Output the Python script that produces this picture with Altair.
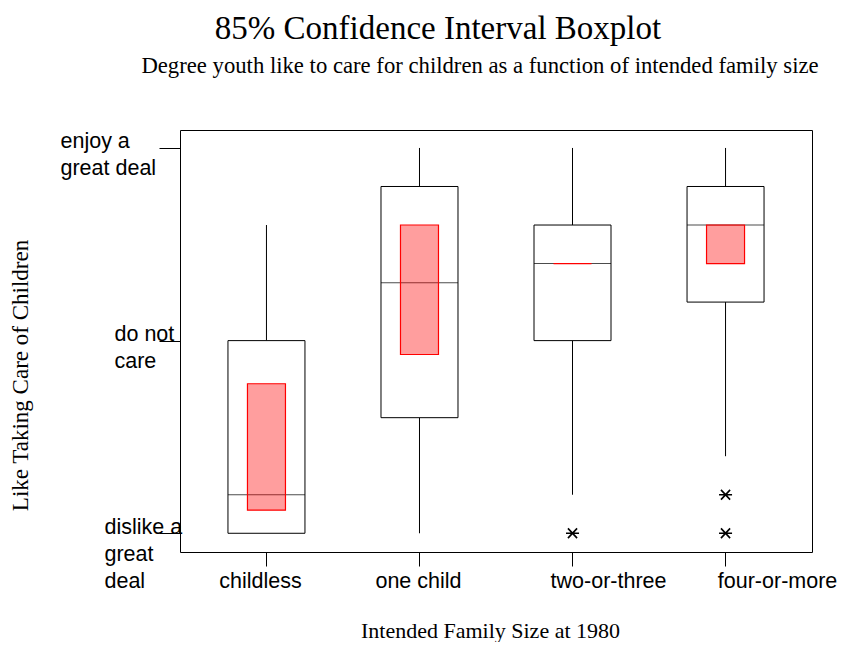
import json
import altair as alt
import pandas as pd

# ---- data ----
categories = ["childless", "one child", "two-or-three", "four-or-more"]
whisker_low = [1.0, 1.0, 1.5, 2.0]
q1 = [1.0, 2.5, 3.5, 4.0]
median = [1.5, 4.25, 4.5, 5.0]
q3 = [3.5, 5.5, 5.0, 5.5]
whisker_high = [5.0, 6.0, 6.0, 6.0]
ci_low = [1.3, 3.32, 4.5, 4.5]
ci_high = [2.94, 5.0, 4.5, 5.0]

outlier_groups = ["two-or-three", "four-or-more", "four-or-more"]
outlier_values = [1.0, 1.5, 1.0]

y_tick_values = [6, 3.5, 1]
y_tick_labels = [["enjoy a", "great deal"], ["do not", "care"], ["dislike a", "great", "deal"]]
y_label_pad = [99, 45, 55]
x_label_shift = [-6, -1, 36, 52]

title_text = "85% Confidence Interval Boxplot"
subtitle_text = "Degree youth like to care for children as a function of intended family size"
x_title = "Intended Family Size at 1980"
y_title = "Like Taking Care of Children"

df = pd.DataFrame({
    "group": categories, "lo": whisker_low, "q1": q1, "med": median,
    "q3": q3, "hi": whisker_high, "cil": ci_low, "cih": ci_high,
})
df_out = pd.DataFrame({"group": outlier_groups, "v": outlier_values})
df_title = pd.DataFrame({"t": [title_text]})
df_sub = pd.DataFrame({"t": [subtitle_text]})

# label expression built from the tick lists
expr = json.dumps(y_tick_labels[-1])
for v, lab in zip(reversed(y_tick_values[:-1]), reversed(y_tick_labels[:-1])):
    expr = f"datum.value == {v} ? {json.dumps(lab)} : {expr}"

pad_cond = {
    "condition": [
        {"test": f"datum.value == {v}", "value": p}
        for v, p in zip(y_tick_values[:-1], y_label_pad[:-1])
    ],
    "value": y_label_pad[-1],
}
xoff_cond = {
    "condition": [
        {"test": f"datum.value == {json.dumps(c)}", "value": s}
        for c, s in zip(categories[:-1], x_label_shift[:-1])
    ],
    "value": x_label_shift[-1],
}

SANS = "Liberation Sans"
SERIF = "Liberation Serif"

x_scale = alt.Scale(domain=categories, paddingInner=0, paddingOuter=0.065)
y_scale = alt.Scale(domain=[0.757, 6.233], nice=False, zero=False)

x_axis = alt.Axis(
    title=x_title, labelAngle=0, tickSize=14, tickColor="black", domain=False,
    labelFont=SANS, labelFontSize=21.5, labelColor="black", labelBaseline="alphabetic",
    labelPadding=21, labelOffset=xoff_cond, labelOverlap=False, labelFlush=False,
    labelBound=False,
    titleFont=SERIF, titleFontSize=22, titleFontWeight="normal",
    titleColor="black", titleX=310, titleY=85, titleBaseline="alphabetic", titleAlign="center",
)
y_axis = alt.Axis(
    title=y_title, values=y_tick_values, labelExpr=expr, tickSize=21, tickColor="black",
    domain=False, grid=False, labelFont=SANS, labelFontSize=21.5, labelColor="black",
    labelAlign="left", labelBaseline="alphabetic", labelLineHeight=27,
    labelPadding=pad_cond, labelOverlap=False, labelFlush=False,
    titleFont=SERIF, titleFontSize=23, titleFontWeight="normal", titleColor="black",
    titleX=-160, titleY=245, titleAlign="center", titleBaseline="middle", titleAngle=-90,
)

X = alt.X("group:N", scale=x_scale, axis=x_axis, sort=categories)

base = alt.Chart(df)

whisk_lo = base.mark_rule(color="black", strokeWidth=1).encode(
    x=X, y=alt.Y("lo:Q", scale=y_scale, axis=y_axis), y2="q1:Q")
whisk_hi = base.mark_rule(color="black", strokeWidth=1).encode(
    x=X, y=alt.Y("q3:Q", scale=y_scale), y2="hi:Q")
box = base.mark_bar(size=77, fill="white", stroke="black", strokeWidth=1).encode(
    x=X, y=alt.Y("q1:Q", scale=y_scale), y2="q3:Q")
med = base.mark_tick(size=77, thickness=1, color="black").encode(
    x=X, y=alt.Y("med:Q", scale=y_scale))
ci = base.mark_bar(size=38, fill="#ff0000", fillOpacity=0.38, stroke="#ff0000",
                   strokeWidth=1.2).encode(
    x=X, y=alt.Y("cil:Q", scale=y_scale), y2="cih:Q")
outl = alt.Chart(df_out).mark_point(
    shape="M-1,0L1,0M-0.7,-0.75L0.7,0.75M-0.7,0.75L0.7,-0.75",
    filled=False, stroke="black", strokeWidth=1.6, size=170, opacity=1,
).encode(x=X, y=alt.Y("v:Q", scale=y_scale))
ttl = alt.Chart(df_title).mark_text(
    font=SERIF, fontSize=33, color="black", align="center", baseline="alphabetic",
).encode(x=alt.value(258), y=alt.value(-91), text="t:N")
sub = alt.Chart(df_sub).mark_text(
    font=SERIF, fontSize=22.7, color="black", align="center", baseline="alphabetic",
).encode(x=alt.value(300), y=alt.value(-57), text="t:N")

chart = alt.layer(whisk_lo, whisk_hi, box, med, ci, outl, ttl, sub).properties(
    width=632, height=422,
    background="white",
    autosize=alt.AutoSizeParams(type="none"),
    padding={"left": 172, "top": 122, "right": 25, "bottom": 90},
).configure_view(stroke="black", strokeWidth=1)

chart.save("out.html", embed_options={"renderer": "svg", "actions": False})
